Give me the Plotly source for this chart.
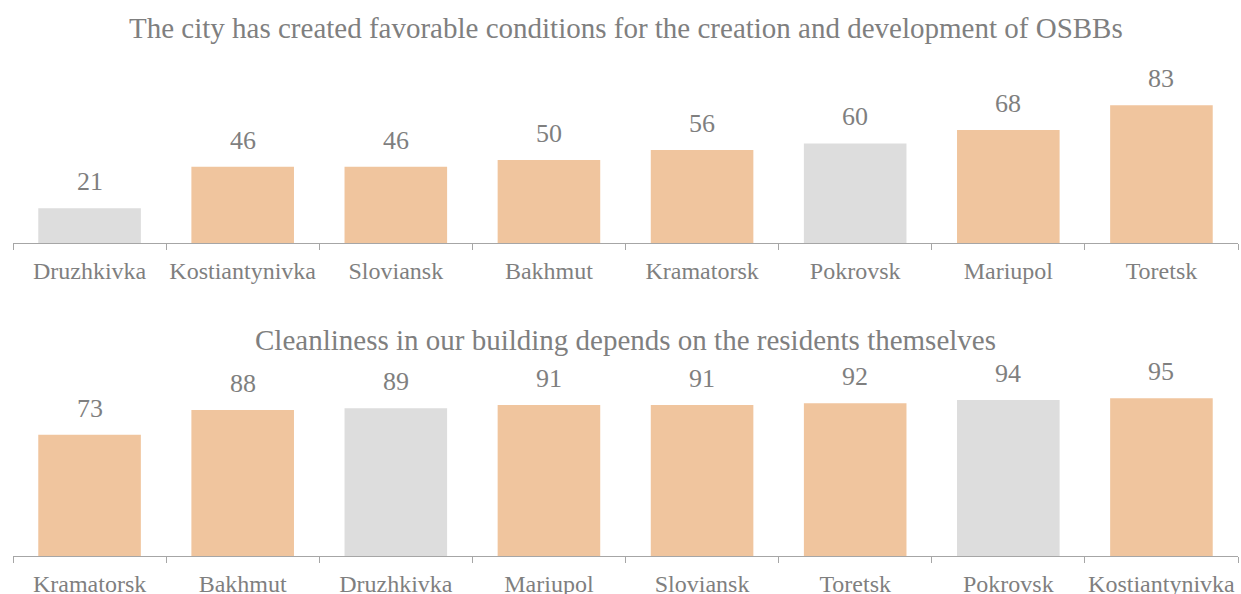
import plotly.graph_objects as go

title1 = "The city has created favorable conditions for the creation and development of OSBBs"
cats1 = ["Druzhkivka", "Kostiantynivka", "Sloviansk", "Bakhmut", "Kramatorsk", "Pokrovsk", "Mariupol", "Toretsk"]
vals1 = [21, 46, 46, 50, 56, 60, 68, 83]

title2 = "Cleanliness in our building depends on the residents themselves"
cats2 = ["Kramatorsk", "Bakhmut", "Druzhkivka", "Mariupol", "Sloviansk", "Toretsk", "Pokrovsk", "Kostiantynivka"]
vals2 = [73, 88, 89, 91, 91, 92, 94, 95]

gray_cities = ["Druzhkivka", "Pokrovsk"]
ORANGE = "#F0C59E"
GRAY = "#DDDDDD"
TXT = "#7F7F7F"
FONT = "'Liberation Serif', 'Times New Roman', Times, serif"

def colors(cats):
    return [GRAY if c in gray_cities else ORANGE for c in cats]

fig = go.Figure()
fig.add_trace(go.Bar(x=cats1, y=vals1, marker=dict(color=colors(cats1), line=dict(width=0)),
                     xaxis="x", yaxis="y", showlegend=False, hoverinfo="x+y"))
fig.add_trace(go.Bar(x=cats2, y=vals2, marker=dict(color=colors(cats2), line=dict(width=0)),
                     xaxis="x2", yaxis="y2", showlegend=False, hoverinfo="x+y"))

annotations = []
for c, v in zip(cats1, vals1):
    annotations.append(dict(x=c, y=v, xref="x", yref="y", text=str(v), showarrow=False,
                            yanchor="bottom", yshift=10, font=dict(family=FONT, size=26, color=TXT)))
for c, v in zip(cats2, vals2):
    annotations.append(dict(x=c, y=v, xref="x2", yref="y2", text=str(v), showarrow=False,
                            yanchor="bottom", yshift=10, font=dict(family=FONT, size=26, color=TXT)))
annotations.append(dict(x=0.5, y=1 - 28 / 594, xref="paper", yref="paper", text=title1, showarrow=False,
                        xanchor="center", yanchor="middle", font=dict(family=FONT, size=29, color=TXT)))
annotations.append(dict(x=0.5, y=1 - 340 / 594, xref="paper", yref="paper", text=title2, showarrow=False,
                        xanchor="center", yanchor="middle", font=dict(family=FONT, size=29, color=TXT)))

xax = dict(showline=True, linecolor="#A6A6A6", linewidth=1, ticks="outside", tickson="boundaries",
           ticklen=6, tickcolor="#A6A6A6", tickfont=dict(family=FONT, size=24, color=TXT),
           ticklabelstandoff=6, tickangle=0, automargin=False,
           showgrid=False, zeroline=False, fixedrange=True)
yax = dict(visible=False, range=[0, 100], showgrid=False, zeroline=False, fixedrange=True)

fig.update_layout(
    width=1241, height=594,
    margin=dict(l=13, r=3, t=0, b=0),
    paper_bgcolor="white", plot_bgcolor="white",
    bargap=0.33,
    xaxis=dict(**xax, domain=[0, 1], anchor="y"),
    yaxis=dict(**yax, domain=[(594 - 243) / 594, (594 - 77) / 594]),
    xaxis2=dict(**xax, domain=[0, 1], anchor="y2"),
    yaxis2=dict(**yax, domain=[(594 - 556) / 594, (594 - 390) / 594]),
    annotations=annotations,
    font=dict(family=FONT, color=TXT),
)

fig.write_html("out.html", config={"displayModeBar": False},
               post_script="document.body.style.margin='0';document.body.style.overflow='hidden';")
